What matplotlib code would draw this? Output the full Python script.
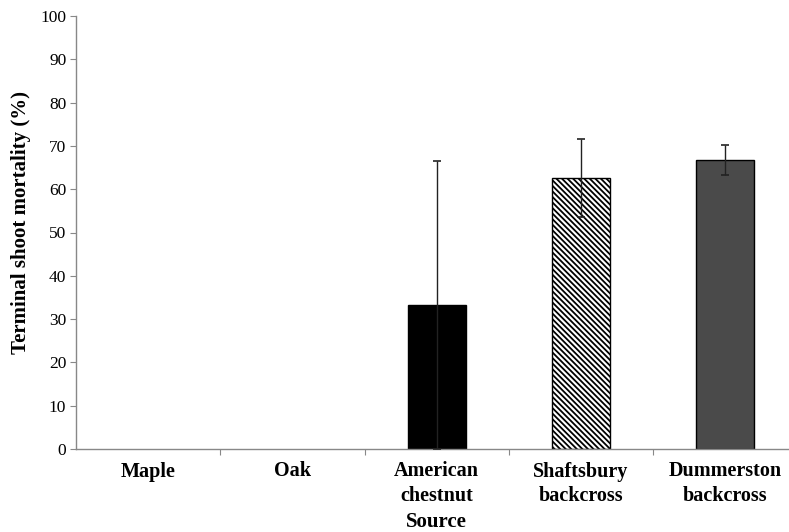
import matplotlib
matplotlib.use("Agg")
import matplotlib.pyplot as plt

categories = ["Maple", "Oak", "American\nchestnut", "Shaftsbury\nbackcross", "Dummerston\nbackcross"]
mortality = [0, 0, 33.3, 62.5, 66.7]
errors = [0, 0, 33.3, 9.0, 3.4]
facecolors = ["black", "black", "black", "white", "#4a4a4a"]
hatches = [None, None, None, "\\\\\\\\\\\\", None]

plt.rcParams["font.family"] = ["Liberation Serif", "DejaVu Serif"]
plt.rcParams["hatch.linewidth"] = 1.3

fig = plt.figure(figsize=(7.89, 5.32), dpi=100)
ax = fig.add_axes([76/789, 83/532, (797.5-76)/789, (449-16)/532])

x = list(range(len(categories)))
for i in x:
    if mortality[i] <= 0:
        continue
    ax.bar(i, mortality[i], width=0.40, color=facecolors[i], edgecolor="black",
           linewidth=1.0, hatch=hatches[i], zorder=2)
    ax.errorbar(i, mortality[i], yerr=errors[i], fmt="none", ecolor="#222222",
                elinewidth=1.0, capsize=3, capthick=1.2, zorder=3)

ax.set_xlim(-0.5, 4.5)
ax.set_ylim(0, 100)
ax.set_yticks(range(0, 101, 10))
ax.set_yticklabels([str(v) for v in range(0, 101, 10)], fontsize=12.5)

ax.set_xticks([0.5, 1.5, 2.5, 3.5], minor=False)
ax.set_xticklabels([])
ax.set_xticks(x, minor=True)
ax.set_xticklabels(categories, minor=True, fontsize=14.5, fontweight="bold", linespacing=1.3)
ax.tick_params(axis="x", which="minor", length=0, pad=9)
ax.tick_params(axis="x", which="major", length=4, color="#888888", direction="out")
ax.tick_params(axis="y", length=4, color="#888888", direction="out", pad=3)

for s in ["top", "right"]:
    ax.spines[s].set_visible(False)
for s in ["left", "bottom"]:
    ax.spines[s].set_color("#888888")
    ax.spines[s].set_linewidth(1.0)

ax.set_ylabel("Terminal shoot mortality (%)", fontsize=15, fontweight="bold")
ax.yaxis.set_label_coords(-0.062, 0.524)
ax.set_xlabel("Source", fontsize=15, fontweight="bold")
ax.xaxis.set_label_coords(0.5, -0.145)

fig.savefig("out.png", dpi=100)
